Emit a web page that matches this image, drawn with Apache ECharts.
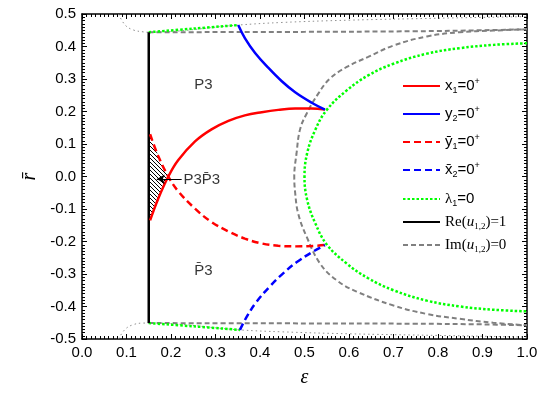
<!DOCTYPE html>
<html>
<head>
<meta charset="utf-8">
<script src="https://cdn.jsdelivr.net/npm/echarts@6/dist/echarts.min.js"></script>
<style>
  html, body { margin: 0; padding: 0; background: #fff; }
  #chart { width: 542px; height: 393px; }
</style>
</head>
<body>
<div id="chart"></div>
<script>
// curves, points are [epsilon, r]
var x1Line = [[0.153, -0.135], [0.171, -0.069], [0.194, 0.0], [0.216, 0.05], [0.254, 0.108], [0.291, 0.145],
  [0.329, 0.171], [0.366, 0.188], [0.404, 0.198], [0.441, 0.205], [0.479, 0.209], [0.516, 0.209], [0.546, 0.206]];
var y1barLine = [[0.153, 0.13], [0.171, 0.064], [0.194, 0.0], [0.216, -0.045], [0.254, -0.099], [0.291, -0.14],
  [0.329, -0.169], [0.366, -0.191], [0.404, -0.206], [0.441, -0.213], [0.48, -0.215], [0.516, -0.214], [0.546, -0.211]];
var y2Line = [[0.351, 0.466], [0.366, 0.426], [0.389, 0.38], [0.419, 0.334], [0.449, 0.293], [0.479, 0.259],
  [0.516, 0.227], [0.546, 0.206]];
var x2barLine = [[0.355, -0.472], [0.37, -0.432], [0.392, -0.386], [0.421, -0.34], [0.452, -0.298], [0.482, -0.264],
  [0.518, -0.232], [0.546, -0.211]];
var lambdaCurve = [[1.0, 0.41], [0.925, 0.405], [0.85, 0.395], [0.775, 0.378], [0.7, 0.347], [0.643, 0.311],
  [0.595, 0.265], [0.55, 0.205], [0.524, 0.143], [0.506, 0.072], [0.5, 0.0], [0.506, -0.072], [0.524, -0.143],
  [0.55, -0.209], [0.595, -0.268], [0.643, -0.313], [0.7, -0.35], [0.775, -0.382], [0.85, -0.4], [0.925, -0.41], [1.0, -0.415]];
var lambdaTop = [[0.15, 0.444], [0.25, 0.455], [0.351, 0.466]];
var lambdaBottom = [[0.15, -0.451], [0.25, -0.461], [0.355, -0.472]];
var reLine = [[0.15, -0.451], [0.15, 0.444]];
var imCurve = [[1.0, 0.453], [0.924, 0.449], [0.849, 0.444], [0.775, 0.431], [0.7, 0.403], [0.643, 0.368], [0.595, 0.337],
  [0.557, 0.301], [0.531, 0.255], [0.505, 0.194], [0.49, 0.145], [0.482, 0.07], [0.477, 0.0], [0.479, -0.05], [0.486, -0.115],
  [0.505, -0.186], [0.535, -0.268], [0.572, -0.319], [0.617, -0.354], [0.7, -0.397], [0.775, -0.423], [0.849, -0.438],
  [0.924, -0.45], [1.0, -0.458]];
var imTop = [[0.15, 0.444], [0.5, 0.445], [0.75, 0.447], [0.9, 0.45], [1.0, 0.453]];
var imBottom = [[0.15, -0.451], [0.5, -0.452], [0.75, -0.453], [0.9, -0.455], [1.0, -0.458]];
var dotTop = [[0.082, 0.5], [0.097, 0.466], [0.115, 0.451], [0.138, 0.445], [0.15, 0.444], [0.351, 0.466],
  [0.45, 0.474], [0.6, 0.481], [0.8, 0.487], [1.0, 0.492]];
var dotBottom = [[0.082, -0.5], [0.097, -0.47], [0.115, -0.456], [0.138, -0.451], [0.15, -0.451], [0.355, -0.472],
  [0.45, -0.478], [0.6, -0.484], [0.8, -0.489], [1.0, -0.494]];
var regionLabels = [[0.273, 0.283, 'P3'], [0.273, -0.289, 'P\u03043']];
var mixLabel = [[0.228, -0.011, 'P3P\u03043']];
var arrowFrom = [0.224, -0.008];
var arrowTo = [0.168, -0.008];

// hatched corner: dashed red down to the crossing, solid red back to the wall
var hatchEdge = [[0.15, 0.13]].concat(y1barLine.slice(0, 3), x1Line.slice(0, 2).reverse(), [[0.15, -0.135]]);

var legendText = {
  x1: 'x{sub|1}=0{sup|+}',
  y2: 'y{sub|2}=0{sup|+}',
  y1b: 'y\u0304{sub|1}=0{sup|+}',
  x2b: 'x\u0304{sub|2}=0{sup|+}',
  lam: '{ser|\u03bb}{sub|1}=0',
  re: '{ser|Re(}{it|u}{ssub|1,2}{ser|)=1}',
  im: '{ser|Im(}{it|u}{ssub|1,2}{ser|)=0}'
};

function hatchCanvas() {
  var c = document.createElement('canvas');
  c.width = 4;
  c.height = 4;
  var ctx = c.getContext('2d');
  ctx.strokeStyle = '#000';
  ctx.lineWidth = 1;
  ctx.beginPath();
  ctx.moveTo(-1, -1); ctx.lineTo(5, 5);
  ctx.moveTo(-1, 3); ctx.lineTo(1, 5);
  ctx.moveTo(3, -1); ctx.lineTo(5, 1);
  ctx.stroke();
  return c;
}

function fmt(v) {
  if (Math.abs(v) < 1e-9) return '0.0';
  return v.toFixed(1);
}

function curve(name, data, color, width, type, z) {
  return {
    name: name,
    type: 'line',
    data: data,
    symbol: 'none',
    showSymbol: false,
    smooth: 0.4,
    z: z || 2,
    lineStyle: { color: color, width: width, type: type },
    itemStyle: { color: color }
  };
}

var tickStyle = { color: '#000', width: 1 };
var rich = {
  sub: { fontSize: 9, lineHeight: 9, padding: [9, 0, 0, 0], fontFamily: 'Liberation Sans' },
  sup: { fontSize: 9, lineHeight: 9, padding: [0, 0, 9, 0], fontFamily: 'Liberation Sans' },
  ser: { fontSize: 15, lineHeight: 18, fontFamily: 'Liberation Serif' },
  it: { fontSize: 15, lineHeight: 18, fontFamily: 'Liberation Serif', fontStyle: 'italic' },
  ssub: { fontSize: 9, lineHeight: 9, padding: [9, 0, 0, 0], fontFamily: 'Liberation Serif' }
};

function axisBase(extra) {
  var a = {
    type: 'value',
    min: 0,
    max: 1,
    interval: 0.1,
    axisLine: { show: true, onZero: false, lineStyle: { color: '#000', width: 1.5 } },
    axisTick: { show: true, inside: true, length: 5, lineStyle: tickStyle },
    minorTick: { show: true, splitNumber: 10, length: 3, lineStyle: tickStyle },
    splitLine: { show: false },
    axisLabel: { show: false }
  };
  for (var k in extra) a[k] = extra[k];
  return a;
}

function legendBox(names, top, gap) {
  return {
    data: names,
    orient: 'vertical',
    left: 397,
    top: top,
    itemWidth: 37,
    itemHeight: 14,
    itemGap: gap,
    selectedMode: false,
    itemStyle: { opacity: 0, borderWidth: 0 },
    formatter: function (n) { return legendText[n]; },
    textStyle: { fontSize: 15, lineHeight: 18, color: '#000', fontFamily: 'Liberation Sans', rich: rich }
  };
}

var myChart = echarts.init(document.getElementById('chart'));
var option = {
  animation: false,
  backgroundColor: '#fff',
  grid: { left: 82, right: 15, top: 14, bottom: 52 },
  xAxis: [
    axisBase({
      position: 'bottom',
      name: '\u03b5',
      nameLocation: 'middle',
      nameGap: 29,
      nameTextStyle: { fontFamily: 'Liberation Serif', fontStyle: 'italic', fontSize: 20, color: '#000' },
      axisLabel: { show: true, margin: 6, color: '#000', fontSize: 15, fontFamily: 'Liberation Sans', formatter: fmt }
    }),
    axisBase({ position: 'top' })
  ],
  yAxis: [
    axisBase({
      min: -0.5,
      max: 0.5,
      position: 'left',
      name: 'r\u0304',
      nameLocation: 'middle',
      nameRotate: 90,
      nameGap: 40,
      nameTextStyle: { fontFamily: 'Liberation Serif', fontStyle: 'italic', fontSize: 20, color: '#000' },
      axisLabel: { show: true, margin: 6, color: '#000', fontSize: 15, fontFamily: 'Liberation Sans', formatter: fmt }
    }),
    axisBase({ min: -0.5, max: 0.5, position: 'right' })
  ],
  legend: [
    legendBox(['x1', 'y2', 'y1b', 'x2b'], 72, 10),
    legendBox(['lam', 're', 'im'], 185, 5)
  ],
  series: [
    {
      name: 'hatch',
      type: 'custom',
      data: [[0.15, 0]],
      z: 1,
      renderItem: function (params, api) {
        var pts = hatchEdge.map(function (p) { return api.coord(p); });
        return {
          type: 'polygon',
          shape: { points: pts },
          style: { fill: { image: hatchCanvas(), repeat: 'repeat' }, stroke: 'none' }
        };
      }
    },
    curve('dotTop', dotTop, '#909090', 1, [1.5, 3], 1),
    curve('dotBottom', dotBottom, '#909090', 1, [1.5, 3], 1),
    curve('im', imCurve, '#808080', 2, [5, 3]),
    curve('im', imTop, '#808080', 2, [5, 3]),
    curve('im', imBottom, '#808080', 2, [5, 3]),
    curve('lam', lambdaCurve, '#00ff00', 2.5, [2.5, 2], 3),
    curve('lam', lambdaTop, '#00ff00', 2.5, [2.5, 2], 3),
    curve('lam', lambdaBottom, '#00ff00', 2.5, [2.5, 2], 3),
    curve('re', reLine, '#000000', 2.5, 'solid', 4),
    curve('x1', x1Line, '#ff0000', 2.5, 'solid', 4),
    curve('y2', y2Line, '#0000ff', 2.5, 'solid', 4),
    curve('y1b', y1barLine, '#ff0000', 2.5, [7, 4], 4),
    curve('x2b', x2barLine, '#0000ff', 2.5, [7, 4], 4),
    {
      name: 'labels',
      type: 'scatter',
      symbolSize: 0,
      z: 5,
      data: regionLabels,
      label: {
        show: true,
        position: 'inside',
        color: '#000',
        fontSize: 15,
        fontFamily: 'Liberation Sans',
        formatter: function (p) { return p.data[2]; }
      }
    },
    {
      name: 'mix',
      type: 'scatter',
      symbolSize: 0,
      z: 5,
      data: mixLabel,
      label: {
        show: true,
        position: 'right',
        distance: 0,
        color: '#000',
        fontSize: 15,
        fontFamily: 'Liberation Sans',
        formatter: function (p) { return p.data[2]; }
      },
      markLine: {
        silent: true,
        symbol: ['none', 'arrow'],
        symbolSize: [7, 8],
        label: { show: false },
        lineStyle: { color: '#000', width: 1, type: 'solid' },
        data: [[{ coord: arrowFrom }, { coord: arrowTo }]]
      }
    }
  ]
};
myChart.setOption(option);
</script>
</body>
</html>
